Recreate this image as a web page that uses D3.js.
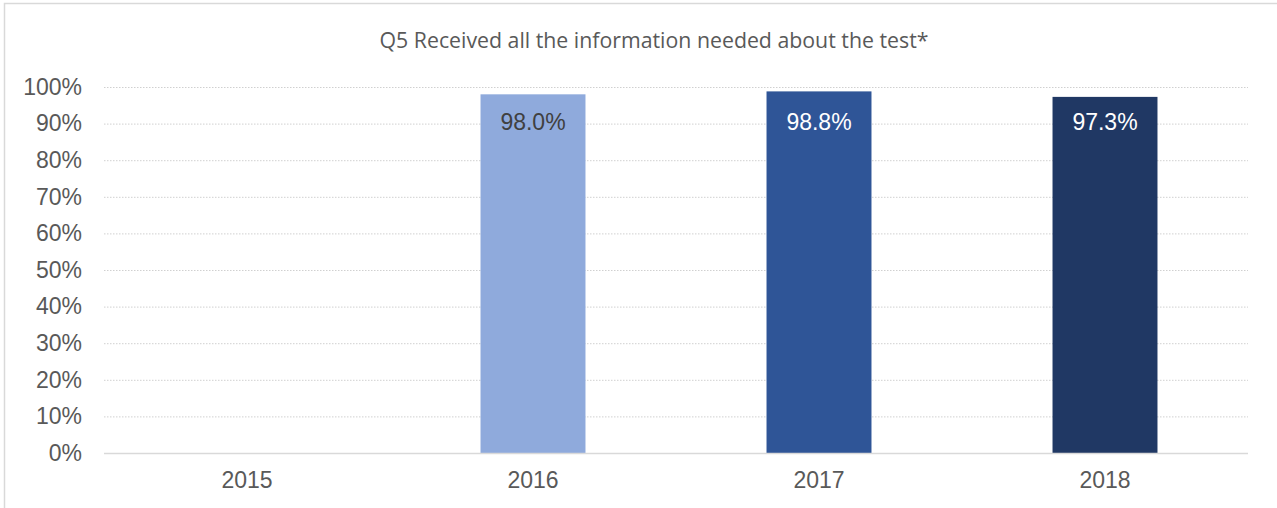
<!DOCTYPE html>
<html><head><meta charset="utf-8">
<script src="https://cdn.jsdelivr.net/npm/d3@7"></script>
<style>body{margin:0;background:#fff}svg{display:block}</style>
</head><body>
<script>
const categories = ["2015","2016","2017","2018"];
const values = [null, 0.980, 0.988, 0.973];
const barColors = ["#8faadc","#8faadc","#2f5597","#203864"];
const labelColors = ["#404040","#404040","#ffffff","#ffffff"];
const yTicks = [0,0.1,0.2,0.3,0.4,0.5,0.6,0.7,0.8,0.9,1.0];
const title = "Q5 Received all the information needed about the test*";

const W = 1277, H = 508;
const svg = d3.select("body").append("svg").attr("width", W).attr("height", H);

svg.append("rect").attr("x",4.5).attr("y",3.5).attr("width",W+20).attr("height",H+20)
  .attr("fill","#fff").attr("stroke","#d9d9d9").attr("stroke-width",1.5);

const x = d3.scaleBand().domain(categories).range([104,1248]).paddingInner(0.633).paddingOuter(0.3165);
const y = d3.scaleLinear().domain([0,1]).range([453,87]);

svg.append("text").attr("x",654).attr("y",48).attr("text-anchor","middle")
  .attr("font-family","Open Sans").attr("font-size",21.3).attr("fill","#595959").text(title);

// gridlines
svg.append("g").selectAll("line").data(yTicks.filter(d=>d>0)).join("line")
  .attr("x1",104).attr("x2",1248).attr("y1",d=>y(d)+0.5).attr("y2",d=>y(d)+0.5)
  .attr("stroke","#d0d0d0").attr("stroke-width",1).attr("stroke-dasharray","1.5,1.5");

// y axis labels
const yAxis = d3.axisLeft(y).tickValues(yTicks).tickFormat(d3.format(".0%")).tickSize(0).tickPadding(22);
const ga = svg.append("g").attr("transform","translate(104,0)").call(yAxis);
ga.select(".domain").remove();
ga.selectAll("text").attr("font-family","Liberation Sans, Arial").attr("font-size",23).attr("fill","#595959");

// bars
const barData = categories.map((c,i)=>({c, v: values[i], i})).filter(d=>d.v!=null);
svg.append("g").selectAll("rect").data(barData).join("rect")
  .attr("x",d=>x(d.c)).attr("width",x.bandwidth())
  .attr("y",d=>y(d.v)).attr("height",d=>y(0)-y(d.v))
  .attr("fill",d=>barColors[d.i]);

svg.append("g").selectAll("text").data(barData).join("text")
  .attr("x",d=>x(d.c)+x.bandwidth()/2).attr("y",130)
  .attr("text-anchor","middle").attr("font-family","Liberation Sans, Arial").attr("font-size",23)
  .attr("fill",d=>labelColors[d.i]).text(d=>d3.format(".1%")(d.v));

// baseline
svg.append("line").attr("x1",104).attr("x2",1248).attr("y1",y(0)+0.5).attr("y2",y(0)+0.5)
  .attr("stroke","#d9d9d9").attr("stroke-width",1.5);

// x axis
const xAxis = d3.axisBottom(x).tickSize(0).tickPadding(19);
const gx = svg.append("g").attr("transform","translate(0,453)").call(xAxis);
gx.select(".domain").remove();
gx.selectAll("text").attr("font-family","Liberation Sans, Arial").attr("font-size",23).attr("fill","#595959");
</script>
</body></html>
